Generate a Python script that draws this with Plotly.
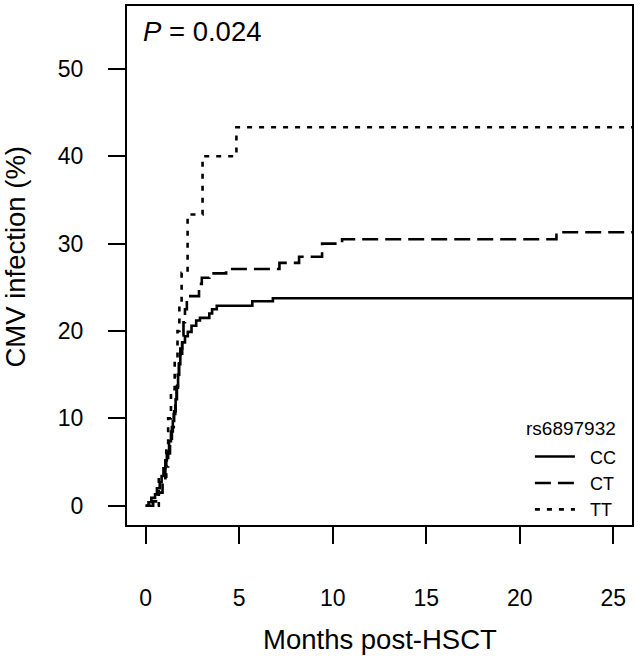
import plotly.graph_objects as go

# Cumulative incidence (%) by genotype
cc_months = [0, 0.15, 0.3, 0.5, 0.6, 0.75, 0.85, 0.95, 1.05, 1.13, 1.25, 1.35, 1.45, 1.52, 1.6,
             1.67, 1.73, 1.78, 1.85, 1.95, 2.1, 2.25, 2.45, 2.7, 2.9, 3.4, 3.55, 3.8, 5.7, 6.8, 30]
cc_pct = [0, 0.4, 0.9, 1.3, 2.0, 2.7, 3.4, 4.3, 5.2, 6.2, 7.4, 8.5, 9.7, 10.8, 12.2,
          13.7, 15.0, 16.2, 17.4, 18.7, 19.4, 19.9, 20.6, 21.2, 21.5, 22.0, 22.5, 22.9, 23.4, 23.75, 23.75]

ct_months = [0, 0.4, 0.7, 0.9, 1.05, 1.2, 1.3, 1.4, 1.5, 1.58, 1.65, 1.72, 1.78, 1.85, 1.95,
             2.02, 2.1, 2.2, 2.85, 3.0, 3.4, 4.3, 7.15, 8.2, 9.43, 10.5, 21.96, 30]
ct_pct = [0, 0.5, 1.5, 3.0, 4.5, 6.0, 7.5, 9.0, 10.5, 12.0, 13.5, 15.0, 16.5, 18.0, 19.5,
          21.0, 22.5, 24.0, 25.4, 26.1, 26.6, 27.1, 27.8, 28.5, 30.0, 30.5, 31.3, 31.3]

tt_months = [0, 0.7, 1.1, 1.2, 1.35, 1.55, 1.7, 1.8, 1.92, 2.24, 3.04, 4.85, 30]
tt_pct = [0, 3.33, 6.67, 10.0, 13.33, 16.67, 20.0, 23.33, 26.67, 33.33, 40.0, 43.33, 43.33]

series_names = ["CC", "CT", "TT"]
legend_title = "rs6897932"
x_ticks = [0, 5, 10, 15, 20, 25]
y_ticks = [0, 10, 20, 30, 40, 50]

FONT = "Arial, 'Liberation Sans', sans-serif"
dashes = ["solid", "16px,7px", "5px,7px"]
PAD = "\u00a0\u00a0"  # visual gap between legend sample and label

fig = go.Figure()
for name, xs, ys, d in zip(series_names, [cc_months, ct_months, tt_months],
                           [cc_pct, ct_pct, tt_pct], dashes):
    fig.add_trace(go.Scatter(x=xs, y=ys, mode="lines", name=PAD + name,
                             line=dict(shape="hv", color="black", width=2.6, dash=d)))

fig.update_layout(
    width=638, height=659,
    margin=dict(l=127, r=4, t=4, b=134),
    paper_bgcolor="white", plot_bgcolor="white",
    font=dict(family=FONT, color="black"),
    showlegend=True,
    legend=dict(x=0.98, xanchor="right", y=0.167, yanchor="top",
                bgcolor="rgba(0,0,0,0)", font=dict(size=18),
                tracegroupgap=0, itemwidth=40),
    xaxis=dict(range=[-1, 26], tickmode="array", tickvals=x_ticks,
               ticks="outside", ticklen=17, tickwidth=2, tickcolor="black",
               showline=True, linecolor="black", linewidth=2, mirror=True,
               showgrid=False, zeroline=False,
               tickfont=dict(size=23), ticklabelstandoff=34),
    yaxis=dict(range=[-2.2, 57.2], tickmode="array", tickvals=y_ticks,
               ticks="outside", ticklen=17, tickwidth=2, tickcolor="black",
               showline=True, linecolor="black", linewidth=2, mirror=True,
               showgrid=False, zeroline=False,
               tickfont=dict(size=23), ticklabelstandoff=20),
    annotations=[
        dict(text="<i>P</i> = 0.024", xref="paper", yref="paper", x=0.027, y=0.95,
             xanchor="left", yanchor="middle", showarrow=False, font=dict(size=27.5)),
        dict(text="CMV infection (%)", xref="paper", yref="paper", x=-0.221, y=0.518,
             xanchor="center", yanchor="middle", textangle=-90, showarrow=False,
             font=dict(size=27.5)),
        dict(text="Months post-HSCT", xref="paper", yref="paper", x=0.5, y=-0.22,
             xanchor="center", yanchor="middle", showarrow=False, font=dict(size=27.5)),
        dict(text=legend_title, xref="paper", yref="paper", x=(620 - 127) / 507,
             y=(525 - 428) / 521, xanchor="right", yanchor="middle", showarrow=False,
             font=dict(size=19)),
    ],
)

fig.write_html("out.html", config={"displayModeBar": False},
               post_script="document.body.style.margin='0';")
